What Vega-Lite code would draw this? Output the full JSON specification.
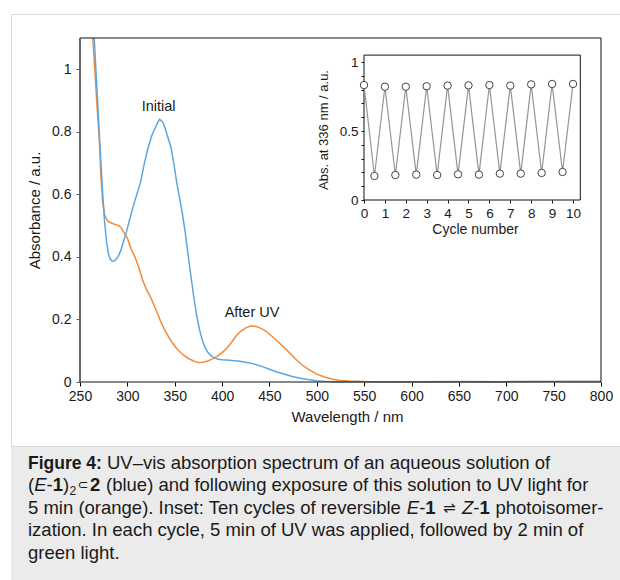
{
  "$schema": "https://vega.github.io/schema/vega-lite/v6.json",
  "padding": {"left": 10, "top": 13, "right": 0, "bottom": 0},
  "background": "white",
  "spacing": 0,
  "config": {
    "font": "Liberation Sans",
    "view": {"stroke": null},
    "axis": {"grid": false, "labelFont": "Liberation Sans", "titleFont": "Liberation Sans", "titleFontWeight": "normal", "labelColor": "#1a1a1a", "titleColor": "#1a1a1a", "labelOverlap": false, "labelFlush": false}
  },
  "datasets": {
    "initial": [
      {"wl": 265, "abs": 1.1}, {"wl": 268, "abs": 0.93}, {"wl": 271, "abs": 0.76}, {"wl": 274, "abs": 0.6},
      {"wl": 276, "abs": 0.51}, {"wl": 278, "abs": 0.45}, {"wl": 280, "abs": 0.41}, {"wl": 282, "abs": 0.393},
      {"wl": 284, "abs": 0.386}, {"wl": 286, "abs": 0.387}, {"wl": 288, "abs": 0.392}, {"wl": 290, "abs": 0.4},
      {"wl": 293, "abs": 0.42}, {"wl": 296, "abs": 0.45}, {"wl": 299, "abs": 0.48}, {"wl": 302, "abs": 0.515},
      {"wl": 306, "abs": 0.56}, {"wl": 310, "abs": 0.6}, {"wl": 314, "abs": 0.64}, {"wl": 318, "abs": 0.7},
      {"wl": 322, "abs": 0.75}, {"wl": 326, "abs": 0.79}, {"wl": 329, "abs": 0.81}, {"wl": 332, "abs": 0.83},
      {"wl": 334, "abs": 0.84}, {"wl": 336, "abs": 0.835}, {"wl": 338, "abs": 0.828}, {"wl": 340, "abs": 0.81},
      {"wl": 343, "abs": 0.78}, {"wl": 346, "abs": 0.75}, {"wl": 349, "abs": 0.7}, {"wl": 352, "abs": 0.64},
      {"wl": 355, "abs": 0.59}, {"wl": 358, "abs": 0.54}, {"wl": 361, "abs": 0.48}, {"wl": 364, "abs": 0.41},
      {"wl": 367, "abs": 0.34}, {"wl": 370, "abs": 0.275}, {"wl": 373, "abs": 0.215}, {"wl": 376, "abs": 0.17},
      {"wl": 379, "abs": 0.135}, {"wl": 382, "abs": 0.11}, {"wl": 385, "abs": 0.095}, {"wl": 388, "abs": 0.085},
      {"wl": 392, "abs": 0.077}, {"wl": 396, "abs": 0.073}, {"wl": 400, "abs": 0.071}, {"wl": 405, "abs": 0.07},
      {"wl": 410, "abs": 0.069}, {"wl": 417, "abs": 0.067}, {"wl": 425, "abs": 0.063}, {"wl": 433, "abs": 0.058},
      {"wl": 442, "abs": 0.05}, {"wl": 450, "abs": 0.041}, {"wl": 458, "abs": 0.032}, {"wl": 467, "abs": 0.024},
      {"wl": 475, "abs": 0.017}, {"wl": 484, "abs": 0.011}, {"wl": 492, "abs": 0.007}, {"wl": 500, "abs": 0.004},
      {"wl": 510, "abs": 0.002}, {"wl": 520, "abs": 0.001}, {"wl": 540, "abs": 0.0005}, {"wl": 560, "abs": 0.001},
      {"wl": 600, "abs": 0.0008}, {"wl": 650, "abs": 0.001}, {"wl": 700, "abs": 0.0012}, {"wl": 750, "abs": 0.0015},
      {"wl": 800, "abs": 0.002}
    ],
    "afterUV": [
      {"wl": 263.5, "abs": 1.1}, {"wl": 266, "abs": 0.98}, {"wl": 268, "abs": 0.88}, {"wl": 270.5, "abs": 0.77},
      {"wl": 272, "abs": 0.66}, {"wl": 274, "abs": 0.575}, {"wl": 276, "abs": 0.535}, {"wl": 279, "abs": 0.515},
      {"wl": 282, "abs": 0.51}, {"wl": 285, "abs": 0.506}, {"wl": 288, "abs": 0.503}, {"wl": 291, "abs": 0.5},
      {"wl": 293, "abs": 0.495}, {"wl": 296, "abs": 0.48}, {"wl": 300, "abs": 0.46}, {"wl": 304, "abs": 0.425},
      {"wl": 308, "abs": 0.4}, {"wl": 312, "abs": 0.367}, {"wl": 316, "abs": 0.327}, {"wl": 320, "abs": 0.297},
      {"wl": 325, "abs": 0.268}, {"wl": 330, "abs": 0.232}, {"wl": 335, "abs": 0.195}, {"wl": 340, "abs": 0.163},
      {"wl": 346, "abs": 0.132}, {"wl": 352, "abs": 0.107}, {"wl": 358, "abs": 0.089}, {"wl": 364, "abs": 0.076},
      {"wl": 370, "abs": 0.067}, {"wl": 375, "abs": 0.062}, {"wl": 380, "abs": 0.063}, {"wl": 385, "abs": 0.067},
      {"wl": 390, "abs": 0.074}, {"wl": 395, "abs": 0.083}, {"wl": 400, "abs": 0.094}, {"wl": 405, "abs": 0.108},
      {"wl": 410, "abs": 0.127}, {"wl": 415, "abs": 0.148}, {"wl": 420, "abs": 0.163}, {"wl": 425, "abs": 0.173},
      {"wl": 431, "abs": 0.18}, {"wl": 437, "abs": 0.177}, {"wl": 442, "abs": 0.17}, {"wl": 446, "abs": 0.163},
      {"wl": 452, "abs": 0.148}, {"wl": 458, "abs": 0.132}, {"wl": 465, "abs": 0.112}, {"wl": 471, "abs": 0.094},
      {"wl": 477, "abs": 0.075}, {"wl": 484, "abs": 0.056}, {"wl": 490, "abs": 0.043}, {"wl": 500, "abs": 0.025},
      {"wl": 508, "abs": 0.016}, {"wl": 517, "abs": 0.009}, {"wl": 525, "abs": 0.005}, {"wl": 534, "abs": 0.003},
      {"wl": 550, "abs": 0.0015}, {"wl": 600, "abs": 0.001}, {"wl": 650, "abs": 0.0015}, {"wl": 700, "abs": 0.001},
      {"wl": 750, "abs": 0.002}, {"wl": 800, "abs": 0.0015}
    ],
    "cycles": [
      {"cycle": 0, "abs": 0.833}, {"cycle": 0.5, "abs": 0.174}, {"cycle": 1, "abs": 0.821}, {"cycle": 1.5, "abs": 0.181},
      {"cycle": 2, "abs": 0.821}, {"cycle": 2.5, "abs": 0.184}, {"cycle": 3, "abs": 0.824}, {"cycle": 3.5, "abs": 0.181},
      {"cycle": 4, "abs": 0.829}, {"cycle": 4.5, "abs": 0.186}, {"cycle": 5, "abs": 0.831}, {"cycle": 5.5, "abs": 0.184},
      {"cycle": 6, "abs": 0.833}, {"cycle": 6.5, "abs": 0.191}, {"cycle": 7, "abs": 0.829}, {"cycle": 7.5, "abs": 0.191},
      {"cycle": 8, "abs": 0.838}, {"cycle": 8.5, "abs": 0.196}, {"cycle": 9, "abs": 0.841}, {"cycle": 9.5, "abs": 0.203},
      {"cycle": 10, "abs": 0.841}
    ],
    "caption": [
      {"seg": 1, "line": 1, "text": "Figure 4:"},
      {"seg": 3, "line": 1, "text": "UV–vis absorption spectrum of an aqueous solution of"},
      {"seg": 2, "line": 2, "text": "("},
      {"seg": 4, "line": 2, "text": "E"},
      {"seg": 5, "line": 2, "text": "-"},
      {"seg": 6, "line": 2, "text": "1"},
      {"seg": 7, "line": 2, "text": ")"},
      {"seg": 8, "line": 2, "text": "2"},
      {"seg": 9, "line": 2, "text": "⊂"},
      {"seg": 10, "line": 2, "text": "2"},
      {"seg": 11, "line": 2, "text": "(blue) and following exposure of this solution to UV light for"},
      {"seg": 2, "line": 3, "text": "5 min (orange). Inset: Ten cycles of reversible"},
      {"seg": 12, "line": 3, "text": "E"},
      {"seg": 13, "line": 3, "text": "-"},
      {"seg": 14, "line": 3, "text": "1"},
      {"seg": 15, "line": 3, "text": "⇌"},
      {"seg": 16, "line": 3, "text": "Z"},
      {"seg": 17, "line": 3, "text": "-"},
      {"seg": 18, "line": 3, "text": "1"},
      {"seg": 19, "line": 3, "text": "photoisomer-"},
      {"seg": 2, "line": 4, "text": "ization. In each cycle, 5 min of UV was applied, followed by 2 min of"},
      {"seg": 2, "line": 5, "text": "green light."}
    ]
  },
  "vconcat": [
    {
      "width": 609,
      "height": 432,
      "view": {"stroke": "#d9d9d9", "strokeWidth": 1, "strokeDash": [609, 432, 1041]},
      "resolve": {"scale": {"x": "independent", "y": "independent"}, "axis": {"x": "independent", "y": "independent"}},
      "layer": [
        {
          "layer": [
            {
              "data": {"name": "afterUV"},
              "mark": {"type": "line", "color": "#f28a3a", "strokeWidth": 1.5},
              "encoding": {
                "x": {"field": "wl", "type": "quantitative",
                  "scale": {"domain": [177.16, 820.06], "nice": false, "zero": false},
                  "axis": {"orient": "bottom", "offset": -64, "values": [250, 300, 350, 400, 450, 500, 550, 600, 650, 700, 750, 800],
                    "domain": false, "tickSize": 4, "tickColor": "#000", "labelFontSize": 14, "labelPadding": 3,
                    "title": "Wavelength / nm", "titleFontSize": 15, "titleX": 336, "titleY": 27, "titleBaseline": "top"}},
                "y": {"field": "abs", "type": "quantitative",
                  "scale": {"domain": [-0.20465, 1.17674], "nice": false, "zero": false},
                  "axis": {"orient": "left", "offset": -69,
                    "values": [0, 0.05, 0.1, 0.15, 0.2, 0.25, 0.3, 0.35, 0.4, 0.45, 0.5, 0.55, 0.6, 0.65, 0.7, 0.75, 0.8, 0.85, 0.9, 0.95, 1, 1.05, 1.1],
                    "labelExpr": "abs(datum.value*5-round(datum.value*5)) < 0.001 ? format(datum.value, '~g') : ''",
                    "domain": false, "tickSize": 4, "tickColor": "#555", "labelFontSize": 14, "labelPadding": 5,
                    "title": "Absorbance / a.u.", "titleFontSize": 15, "titleAngle": -90, "titleBaseline": "alphabetic",
                    "titleX": -40.5, "titleY": 196}}
              }
            },
            {
              "data": {"name": "initial"},
              "mark": {"type": "line", "color": "#5ca6e0", "strokeWidth": 1.5},
              "encoding": {
                "x": {"field": "wl", "type": "quantitative"},
                "y": {"field": "abs", "type": "quantitative"}
              }
            },
            {
              "data": {"values": [{}]},
              "mark": {"type": "rect", "fillOpacity": 0, "stroke": "#111", "strokeWidth": 1},
              "encoding": {
                "x": {"datum": 250}, "x2": {"datum": 800},
                "y": {"datum": 0}, "y2": {"datum": 1.1}
              }
            },
            {
              "data": {"values": [{}]},
              "mark": {"type": "rule", "stroke": "#666", "strokeWidth": 2},
              "encoding": {
                "x": {"datum": 250},
                "y": {"datum": 0}, "y2": {"datum": 1.1}
              }
            },
            {
              "data": {"values": [{}]},
              "mark": {"type": "text", "text": "Initial", "fontSize": 14.5, "color": "#1a1a1a", "baseline": "middle"},
              "encoding": {"x": {"datum": 333}, "y": {"datum": 0.879}}
            },
            {
              "data": {"values": [{}]},
              "mark": {"type": "text", "text": "After UV", "fontSize": 14.5, "color": "#1a1a1a", "baseline": "middle"},
              "encoding": {"x": {"datum": 431.6}, "y": {"datum": 0.222}}
            }
          ]
        },
        {
          "layer": [
            {
              "data": {"values": [{}]},
              "mark": {"type": "rect", "fill": "white", "stroke": "#111", "strokeWidth": 1},
              "encoding": {
                "x": {"datum": 0, "type": "quantitative",
                  "scale": {"domain": [-16.89, 12.249], "nice": false, "zero": false},
                  "axis": {"orient": "bottom", "offset": -246,
                    "values": [0, 0.5, 1, 1.5, 2, 2.5, 3, 3.5, 4, 4.5, 5, 5.5, 6, 6.5, 7, 7.5, 8, 8.5, 9, 9.5, 10],
                    "labelExpr": "datum.value % 1 == 0 ? format(datum.value, 'd') : ''",
                    "domain": false, "tickSize": 3, "tickColor": "#111", "labelFontSize": 13.5, "labelPadding": 3,
                    "title": "Cycle number", "titleFontSize": 14, "titleX": 464, "titleY": 22, "titleBaseline": "top"}},
                "x2": {"datum": 10.35},
                "y": {"datum": 0, "type": "quantitative",
                  "scale": {"domain": [-1.78261, 1.34783], "nice": false, "zero": false},
                  "axis": {"orient": "left", "offset": -353,
                    "values": [0, 0.1, 0.2, 0.3, 0.4, 0.5, 0.6, 0.7, 0.8, 0.9, 1],
                    "labelExpr": "abs(datum.value*2-round(datum.value*2)) < 0.001 ? format(datum.value, '~g') : ''",
                    "domain": false, "tickSize": 3, "tickColor": "#111", "labelFontSize": 13.5, "labelPadding": 3,
                    "title": "Abs. at 336 nm / a.u.", "titleFontSize": 13, "titleAngle": -90, "titleBaseline": "alphabetic",
                    "titleX": -37, "titleY": 115.5}},
                "y2": {"datum": 1.05}
              }
            },
            {
              "data": {"name": "cycles"},
              "mark": {"type": "line", "color": "#959595", "strokeWidth": 1.2},
              "encoding": {
                "x": {"field": "cycle", "type": "quantitative"},
                "y": {"field": "abs", "type": "quantitative"}
              }
            },
            {
              "data": {"name": "cycles"},
              "mark": {"type": "point", "filled": true, "fill": "white", "stroke": "#444", "strokeWidth": 1, "size": 55, "opacity": 1},
              "encoding": {
                "x": {"field": "cycle", "type": "quantitative"},
                "y": {"field": "abs", "type": "quantitative"}
              }
            }
          ]
        }
      ]
    },
    {
      "width": 610,
      "height": 135,
      "view": {"fill": "#ebebeb", "stroke": null},
      "data": {"name": "caption"},
      "encoding": {
        "x": {"datum": 0, "type": "quantitative", "scale": {"domain": [0, 1]}, "axis": null},
        "y": {"field": "line", "type": "ordinal", "scale": {"type": "point", "padding": 1.125, "align": 0.4856}, "axis": null},
        "text": {"field": "text"}
      },
      "layer": [
        {"transform": [{"filter": "datum.seg == 1"}], "mark": {"type": "text", "align": "left", "baseline": "alphabetic", "fontSize": 17.5, "fontWeight": "bold", "color": "#1a1a1a", "dx": 17}},
        {"transform": [{"filter": "datum.seg == 2"}], "mark": {"type": "text", "align": "left", "baseline": "alphabetic", "fontSize": 18.5, "color": "#1a1a1a", "dx": 17}},
        {"transform": [{"filter": "datum.seg == 3"}], "mark": {"type": "text", "align": "left", "baseline": "alphabetic", "fontSize": 18.5, "color": "#1a1a1a", "dx": 96}},
        {"transform": [{"filter": "datum.seg == 4"}], "mark": {"type": "text", "align": "left", "baseline": "alphabetic", "fontSize": 18.5, "fontStyle": "italic", "color": "#1a1a1a", "dx": 23.2}},
        {"transform": [{"filter": "datum.seg == 5"}], "mark": {"type": "text", "align": "left", "baseline": "alphabetic", "fontSize": 18.5, "color": "#1a1a1a", "dx": 35.5}},
        {"transform": [{"filter": "datum.seg == 6"}], "mark": {"type": "text", "align": "left", "baseline": "alphabetic", "fontSize": 18.5, "fontWeight": "bold", "color": "#1a1a1a", "dx": 41.7}},
        {"transform": [{"filter": "datum.seg == 7"}], "mark": {"type": "text", "align": "left", "baseline": "alphabetic", "fontSize": 18.5, "color": "#1a1a1a", "dx": 52}},
        {"transform": [{"filter": "datum.seg == 8"}], "mark": {"type": "text", "align": "left", "baseline": "alphabetic", "fontSize": 12, "color": "#1a1a1a", "dx": 58.6, "dy": 3.5}},
        {"transform": [{"filter": "datum.seg == 9"}], "mark": {"type": "text", "align": "left", "baseline": "alphabetic", "fontSize": 13, "font": "DejaVu Sans", "color": "#1a1a1a", "dx": 66.5, "dy": -2}},
        {"transform": [{"filter": "datum.seg == 10"}], "mark": {"type": "text", "align": "left", "baseline": "alphabetic", "fontSize": 18.5, "fontWeight": "bold", "color": "#1a1a1a", "dx": 79}},
        {"transform": [{"filter": "datum.seg == 11"}], "mark": {"type": "text", "align": "left", "baseline": "alphabetic", "fontSize": 18.5, "color": "#1a1a1a", "dx": 95}},
        {"transform": [{"filter": "datum.seg == 12"}], "mark": {"type": "text", "align": "left", "baseline": "alphabetic", "fontSize": 18.5, "fontStyle": "italic", "color": "#1a1a1a", "dx": 395.8}},
        {"transform": [{"filter": "datum.seg == 13"}], "mark": {"type": "text", "align": "left", "baseline": "alphabetic", "fontSize": 18.5, "color": "#1a1a1a", "dx": 408.2}},
        {"transform": [{"filter": "datum.seg == 14"}], "mark": {"type": "text", "align": "left", "baseline": "alphabetic", "fontSize": 18.5, "fontWeight": "bold", "color": "#1a1a1a", "dx": 414.3}},
        {"transform": [{"filter": "datum.seg == 15"}], "mark": {"type": "text", "align": "left", "baseline": "alphabetic", "fontSize": 15, "font": "DejaVu Sans", "color": "#1a1a1a", "dx": 432, "dy": -1}},
        {"transform": [{"filter": "datum.seg == 16"}], "mark": {"type": "text", "align": "left", "baseline": "alphabetic", "fontSize": 18.5, "fontStyle": "italic", "color": "#1a1a1a", "dx": 451}},
        {"transform": [{"filter": "datum.seg == 17"}], "mark": {"type": "text", "align": "left", "baseline": "alphabetic", "fontSize": 18.5, "color": "#1a1a1a", "dx": 462.3}},
        {"transform": [{"filter": "datum.seg == 18"}], "mark": {"type": "text", "align": "left", "baseline": "alphabetic", "fontSize": 18.5, "fontWeight": "bold", "color": "#1a1a1a", "dx": 468.5}},
        {"transform": [{"filter": "datum.seg == 19"}], "mark": {"type": "text", "align": "left", "baseline": "alphabetic", "fontSize": 18.5, "color": "#1a1a1a", "dx": 484.5}}
      ]
    }
  ]
}
